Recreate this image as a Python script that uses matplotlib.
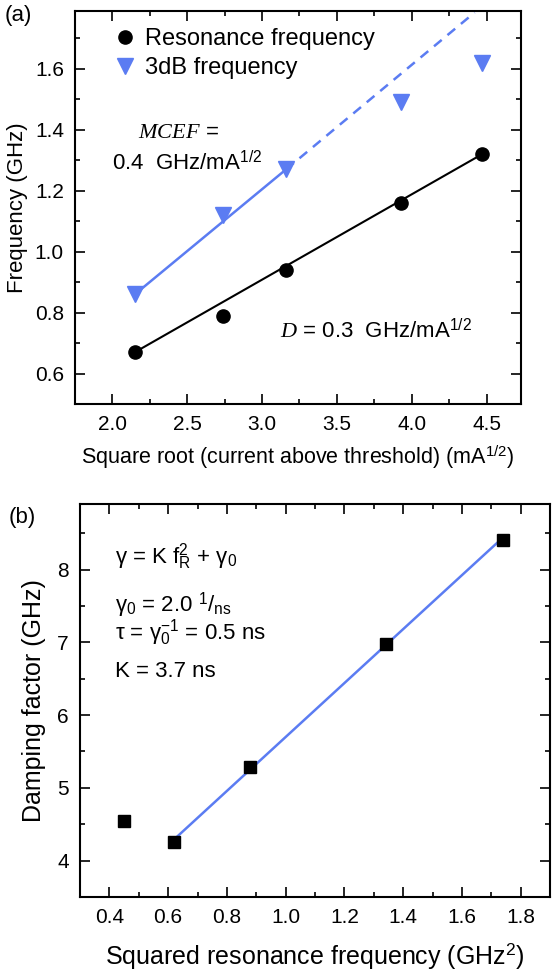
import numpy as np
import matplotlib
matplotlib.use('Agg')
import matplotlib.pyplot as plt
from matplotlib.ticker import MultipleLocator

plt.rcParams['font.family'] = ['Liberation Sans', 'DejaVu Sans']
plt.rcParams['mathtext.fontset'] = 'custom'
plt.rcParams['mathtext.rm'] = 'Liberation Sans'
plt.rcParams['mathtext.it'] = 'Liberation Serif:italic'
plt.rcParams['mathtext.bf'] = 'Liberation Sans:bold'

# Dane (a): pierwiastek z prądu powyżej progu
sqrt_current = [2.15, 2.74, 3.16, 3.93, 4.47]
f_resonance = [0.67, 0.79, 0.94, 1.16, 1.32]
f_3db = [0.86, 1.12, 1.27, 1.49, 1.62]

# linie dopasowania
res_fit_x = [2.15, 4.47]
res_fit_y = [0.67, 1.32]
mcef_fit_x = [2.15, 3.16]
mcef_fit_y = [0.86, 1.27]
mcef_ext_x = [3.16, 4.42]
mcef_ext_y = [1.27, 1.785]

# Dane (b): tłumienie vs kwadrat częstotliwości rezonansowej
fr_squared = [0.45, 0.62, 0.88, 1.34, 1.74]
damping = [4.55, 4.26, 5.28, 6.97, 8.40]
damp_fit_x = [0.62, 1.74]
damp_fit_y = [4.29, 8.44]

blue = '#5b7cf2'

fig = plt.figure(figsize=(5.53, 9.76), dpi=100)
ax1 = fig.add_axes([75 / 553, 1 - 404 / 976, 446 / 553, 393 / 976])
ax2 = fig.add_axes([80 / 553, 1 - 897 / 976, 470 / 553, 393 / 976])

# --- panel (a)
ax1.plot(res_fit_x, res_fit_y, color='black', lw=1.5)
ax1.plot(mcef_fit_x, mcef_fit_y, color=blue, lw=1.8)
ax1.plot(mcef_ext_x, mcef_ext_y, color=blue, lw=1.8, ls=(0, (4, 3)))
ax1.plot(sqrt_current, f_resonance, 'o', color='black', ms=9.5, label='Resonance frequency')
ax1.plot(sqrt_current, f_3db, 'v', color=blue, ms=11, label='3dB frequency')

ax1.set_xlim(1.75, 4.73)
ax1.set_ylim(0.5, 1.79)
ax1.set_xticks([2.0, 2.5, 3.0, 3.5, 4.0, 4.5])
ax1.set_yticks([0.6, 0.8, 1.0, 1.2, 1.4, 1.6])
ax1.xaxis.set_minor_locator(MultipleLocator(0.25))
ax1.yaxis.set_minor_locator(MultipleLocator(0.1))
ax1.set_xlabel('Square root (current above threshold) (mA$^{1/2}$)', fontsize=15.5, labelpad=7)
ax1.set_ylabel('Frequency (GHz)', fontsize=16, labelpad=5)

ax1.legend(loc='upper left', bbox_to_anchor=(0.086, 0.957), frameon=False, fontsize=17,
           handlelength=1.0, handletextpad=0.35, labelspacing=0.3, borderaxespad=0, borderpad=0)

ax1.text(0.141, 0.692, r'$\mathit{MCEF}$ =', transform=ax1.transAxes, fontsize=16, va='center')
ax1.text(0.083, 0.616, r'0.4  GHz/mA$^{1/2}$', transform=ax1.transAxes, fontsize=16, va='center')
ax1.text(0.46, 0.188, r'$\mathit{D}$ = 0.3  GHz/mA$^{1/2}$', transform=ax1.transAxes, fontsize=16, va='center')

# --- panel (b)
ax2.plot(damp_fit_x, damp_fit_y, color=blue, lw=1.8)
ax2.plot(fr_squared, damping, 's', color='black', ms=8.5)

ax2.set_xlim(0.3, 1.9)
ax2.set_ylim(3.5, 8.9)
ax2.set_xticks([0.4, 0.6, 0.8, 1.0, 1.2, 1.4, 1.6, 1.8])
ax2.set_yticks([4, 5, 6, 7, 8])
ax2.xaxis.set_minor_locator(MultipleLocator(0.1))
ax2.yaxis.set_minor_locator(MultipleLocator(0.5))
ax2.set_xlabel('Squared resonance frequency (GHz$^2$)', fontsize=18, labelpad=10)
ax2.set_ylabel('Damping factor (GHz)', fontsize=18, labelpad=8)

ax2.text(0.0745, 0.865, 'γ = K f$_\\mathrm{R}^2$ + γ$_0$', transform=ax2.transAxes, fontsize=16, va='center')
ax2.text(0.0745, 0.743, 'γ$_0$ = 2.0 $^1$/$_\\mathrm{ns}$', transform=ax2.transAxes, fontsize=16, va='center')
ax2.text(0.0745, 0.672, 'τ = γ$_0^{-1}$ = 0.5 ns', transform=ax2.transAxes, fontsize=16, va='center')
ax2.text(0.0745, 0.573, 'K = 3.7 ns', transform=ax2.transAxes, fontsize=16, va='center')

for ax in (ax1, ax2):
    ax.tick_params(which='both', direction='in', top=True, right=True, labelsize=15, width=1.2)
    ax.tick_params(which='major', length=7, pad=8)
    ax.tick_params(which='minor', length=3.5)
    for s in ax.spines.values():
        s.set_linewidth(1.5)

fig.text(18 / 553, 1 - 15 / 976, '(a)', fontsize=16, ha='center', va='center')
fig.text(22 / 553, 1 - 517 / 976, '(b)', fontsize=16, ha='center', va='center')

fig.savefig('out.png', dpi=100)
